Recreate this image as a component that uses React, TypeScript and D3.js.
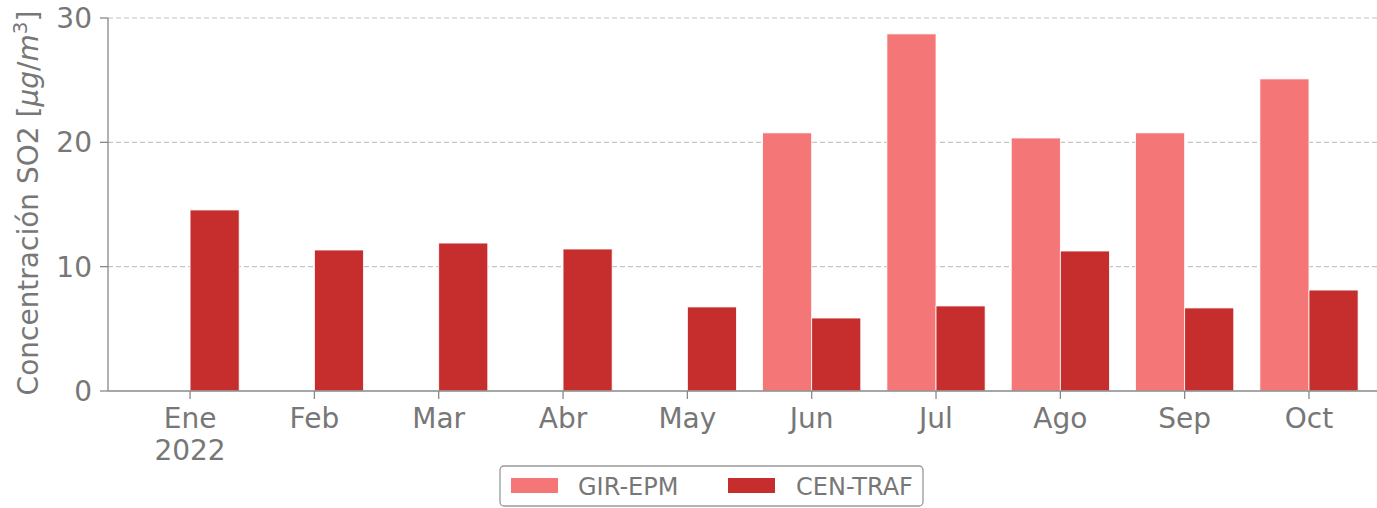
import React from "react";
import * as d3 from "d3";

const months = ["Ene", "Feb", "Mar", "Abr", "May", "Jun", "Jul", "Ago", "Sep", "Oct"];
const girEpm: (number | null)[] = [null, null, null, null, null, 20.76, 28.72, 20.35, 20.76, 25.1];
const cenTraf: number[] = [14.56, 11.34, 11.9, 11.42, 6.76, 5.87, 6.84, 11.26, 6.68, 8.12];
const yTicks = [0, 10, 20, 30];
const seriesNames = ["GIR-EPM", "CEN-TRAF"];
const colors = ["#F47676", "#C62D2D"];

export default function App() {
  const W = 1377, H = 508;
  const left = 108, right = 1377, top = 18, bottom = 391;
  const x = d3.scaleLinear().domain([-0.66, 9.547]).range([left, right]);
  const y = d3.scaleLinear().domain([0, 30]).range([bottom, top]);
  const bw = x(0.395) - x(0);
  const textCol = "#777777";
  const font = "DejaVu Sans, sans-serif";
  const fs = 28;
  return (
    <svg width={W} height={H} style={{ position: "absolute", left: 0, top: 0 }} fontFamily={font}>
      {yTicks.filter(t => t > 0).map(t => (
        <line key={"g" + t} x1={left} x2={right} y1={y(t)} y2={y(t)} stroke="#c4c4c4" strokeWidth={1.2} strokeDasharray="5,3" />
      ))}
      {girEpm.map((v, i) => v == null ? null : (
        <rect key={"a" + i} x={x(i) - bw} y={y(v)} width={bw} height={y(0) - y(v)} fill={colors[0]} stroke="#fff" strokeWidth={0.8} />
      ))}
      {cenTraf.map((v, i) => (
        <rect key={"b" + i} x={x(i)} y={y(v)} width={bw} height={y(0) - y(v)} fill={colors[1]} stroke="#fff" strokeWidth={0.8} />
      ))}
      <line x1={left} x2={left} y1={top} y2={bottom} stroke="#888" strokeWidth={1.3} />
      <line x1={left} x2={right} y1={bottom} y2={bottom} stroke="#888" strokeWidth={1.3} />
      {yTicks.map(t => (
        <g key={"y" + t}>
          <line x1={left - 8} x2={left} y1={y(t)} y2={y(t)} stroke="#888" strokeWidth={1.3} />
          <text x={left - 16} y={y(t)} dy="0.36em" textAnchor="end" fontSize={fs} fill={textCol}>{t}</text>
        </g>
      ))}
      {months.map((m, i) => (
        <g key={"x" + i}>
          <line x1={x(i)} x2={x(i)} y1={bottom} y2={bottom + 8} stroke="#888" strokeWidth={1.3} />
          <text x={x(i)} y={428} textAnchor="middle" fontSize={fs} fill={textCol}>{m}</text>
          {i === 0 && <text x={x(i)} y={460} textAnchor="middle" fontSize={fs} fill={textCol}>2022</text>}
        </g>
      ))}
      <text transform={`translate(38, 203) rotate(-90)`} textAnchor="middle" fontSize={fs} fill={textCol}>
        Concentración SO2 [<tspan fontStyle="italic">μg</tspan>/<tspan fontStyle="italic">m</tspan><tspan dy={-11} fontSize={20}>3</tspan><tspan dy={11}>]</tspan>
      </text>
      <rect x={500} y={466} width={423} height={40} rx={4} fill="#fff" stroke="#999" strokeWidth={1.3} />
      {seriesNames.map((s, i) => (
        <g key={"l" + i}>
          <rect x={511 + i * 217} y={478} width={47} height={15} fill={colors[i]} />
          <text x={578 + i * 218} y={486} dy="0.36em" fontSize={24} fill={textCol}>{s}</text>
        </g>
      ))}
    </svg>
  );
}
